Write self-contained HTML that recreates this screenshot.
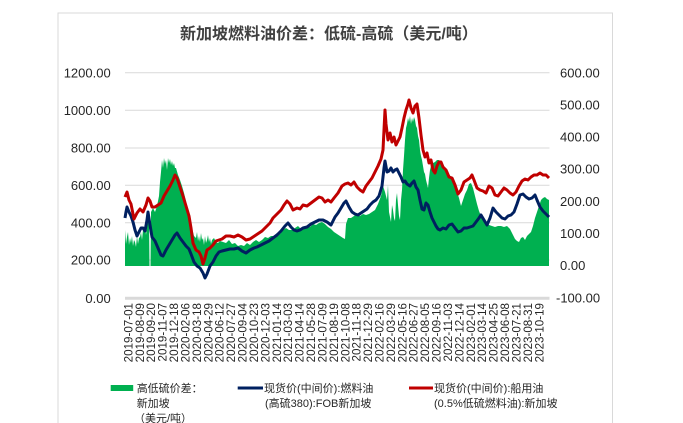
<!DOCTYPE html>
<html>
<head>
<meta charset="utf-8">
<style>
html,body{margin:0;padding:0;background:#fff;}
svg{display:block;}
text{font-family:"Liberation Sans","Noto Sans CJK SC",sans-serif;}
</style>
</head>
<body>
<svg width="683" height="423" viewBox="0 0 683 423" xmlns="http://www.w3.org/2000/svg">
<rect x="0" y="0" width="683" height="423" fill="#fff"/>
<rect x="58" y="13" width="554.5" height="420" fill="#fff" stroke="#d9d9d9" stroke-width="1"/>

<text x="180" y="39" font-size="16" font-weight="bold" fill="#404040">新加坡燃料油价差：低硫-高硫（美元/吨）</text>

<!-- gridlines -->
<g stroke="#d9d9d9" stroke-width="1">
<line x1="125" y1="72.7" x2="549.5" y2="72.7"/>
<line x1="125" y1="110.3" x2="549.5" y2="110.3"/>
<line x1="125" y1="148" x2="549.5" y2="148"/>
<line x1="125" y1="185.3" x2="549.5" y2="185.3"/>
<line x1="125" y1="222.7" x2="549.5" y2="222.7"/>
<line x1="125" y1="260" x2="549.5" y2="260"/>
</g>

<!-- left axis labels -->
<g font-size="13" fill="#262626" text-anchor="end">
<text x="110.7" y="77.3">1200.00</text>
<text x="110.7" y="114.9">1000.00</text>
<text x="110.7" y="152.6">800.00</text>
<text x="110.7" y="189.9">600.00</text>
<text x="110.7" y="227.3">400.00</text>
<text x="110.7" y="264.6">200.00</text>
<text x="110.7" y="302.9">0.00</text>
</g>
<!-- right axis labels -->
<g font-size="13" fill="#262626">
<text x="560" y="77.3">600.00</text>
<text x="560" y="109.4">500.00</text>
<text x="560" y="141.6">400.00</text>
<text x="560" y="173.7">300.00</text>
<text x="560" y="205.9">200.00</text>
<text x="560" y="238.0">100.00</text>
<text x="560" y="270.2">0.00</text>
<text x="556" y="302.3">-100.00</text>
</g>

<!-- green area -->
<polygon fill="#00b050" points="125,266 125,230 126,244 127,237 128,232 129,245 130,238 131,243 132,236 133,246 134,240 135,242 136,247 137,236 138,244 139,238 140,237 141,232 142,240 143,230 144,228 145,225 146,235 147,226 148,222 149,215 149.5,266 150.5,266 151,212 153,208 155,212 157,206 159,196 160,182 161,172 162,160 163,168 164,158 165,164 166,160 167,170 168,158 169,163 170,159 171,165 172,161 173,166 174,163 175,168 176,168 178,175 180,180 182,186 184,193 186,201 188,212 190,218 192,228 194,236 196,238 197,232 198,241 199,236 200,242 201,233 202,240 203,238 204,245 205,236 206,243 207,240 208,235 209,242 210,238 211,244 212,240 214,238 216,242 218,243 220,241 223,242 226,243 229,240 232,244 235,243 238,246 241,245 244,246 247,243 250,245 253,242 256,240 259,242 262,240 265,237 268,238 271,236 274,236 277,233 280,234 283,230 286,228 289,230 292,230 295,228 298,226 301,229 304,228 307,226 310,227 313,224 316,225 319,223 322,222 325,224 328,227 331,229 334,232 337,234 340,236 343,238 345,239 346,224 348,218 351,218 354,216 357,214 360,216 363,214 366,215 369,214 372,212 375,210 378,204 381,196 383,186 385,192 387,200 388,185 389,212 390,217 391,222 392,205 393,210 394,218 395,221 396,200 397,193 398,205 399,216 400,220 401,200 402,190 403,170 404,156 405,140 406,128 407,124 408,118 409,122 410,116 411,124 412,118 413,122 414,117 415,120 416,126 417,128 418,136 419,140 420,150 421,156 422,160 423,166 424,172 425,174 426,180 427,184 428,188 429,178 430,170 431,166 432,166 433,163 435,162 437,160 439,160 441,162 443,164 445,168 447,171 449,174 451,177 453,180 455,186 457,192 459,198 461,206 463,200 465,194 467,190 469,184 471,183 473,188 475,196 477,204 479,211 481,216 483,220 486,223 489,225 492,226 495,227 498,226 501,226 504,227 507,226 510,229 513,235 515,239 517,241 519,242 521,238 523,237 525,240 527,236 529,234 531,232 533,226 535,218 537,212 539,206 541,200 543,198 545,197 547,199 549,200 549,266"/>

<!-- x axis line -->
<line x1="125" y1="298.3" x2="549.5" y2="298.3" stroke="#d9d9d9" stroke-width="3"/>

<!-- blue line -->
<polyline fill="none" stroke="#002060" stroke-width="3" stroke-linejoin="round" points="125,218 126,212 127,207 129,212 131,216 133,222 135,230 137,236 139,232 141,228 143,228 145,231 147,220 148,212 150,225 152,237 155,241 158,248 161,255 163,256 166,250 169,245 172,240 175,235 177,233 180,238 183,242 186,246 189,249 191,254 194,262 197,266 200,268 203,273 205,278 207,274 210,266 213,262 216,256 219,252 222,251 226,250 230,249 234,249 238,248 242,251 246,253 250,250 254,248 257,247 261,245 265,243 269,241 273,238 277,235 281,231 285,226 288,223 291,227 294,230 297,231 300,230 303,228 307,227 311,224 315,222 319,220 323,220 327,222 331,225 335,217 338,213 341,208 344,203 346,201 349,207 352,212 355,214 358,215 361,213 364,211 367,209 370,205 373,202 376,200 379,196 382,186 384,168 385,161 387,172 389,171 391,168 393,172 395,170 397,169 399,173 401,177 403,182 405,181 407,184 410,186 412,183 414,181 416,187 418,190 420,200 422,209 424,210 426,203 428,205 430,212 432,218 434,222 436,226 438,229 440,230 443,228 446,229 449,225 452,224 455,228 458,232 461,231 464,228 467,228 470,227 473,226 476,222 479,218 481,215 484,220 487,225 490,218 493,208 496,212 499,215 502,218 505,219 508,216 511,215 514,212 517,204 520,195 523,194 526,197 529,199 532,198 535,195 537,200 540,207 543,211 546,214 549,217"/>

<!-- red line -->
<polyline fill="none" stroke="#c00000" stroke-width="3" stroke-linejoin="round" points="125,197 127,192 129,200 131,204 134,219 137,213 140,209 143,212 146,205 148,198 150,201 152,207 155,207 158,205 161,203 164,196 167,191 170,186 173,180 175,175 177,178 180,187 183,196 186,206 189,216 191,228 193,243 196,250 199,252 201,256 203,264 205,258 207,250 210,248 213,245 216,241 219,240 222,239 226,236 230,236 234,237 238,235 242,237 246,240 250,239 253,237 256,235 259,233 262,231 266,227 270,223 273,218 277,214 281,210 284,205 287,201 290,204 293,210 297,208 300,209 303,205 307,206 311,203 315,200 319,197 322,198 325,202 328,200 331,202 334,198 338,193 342,186 345,184 348,183 351,185 354,182 357,187 360,190 363,192 366,186 369,182 372,178 375,172 378,166 381,159 383,150 385,110 386,124 388,140 390,133 392,142 394,137 396,145 398,141 400,137 402,128 404,118 406,110 408,104 409,100 411,108 413,113 415,106 417,104 419,118 421,135 423,150 425,157 427,153 429,163 431,160 433,170 435,173 437,166 439,162 441,162 443,167 446,170 449,177 452,178 455,185 458,194 461,190 464,182 467,180 470,178 472,175 474,180 477,188 480,190 483,191 486,193 489,186 492,188 495,195 498,196 501,192 504,188 507,190 510,193 513,195 516,192 519,186 522,181 525,179 528,180 531,177 534,175 537,175 540,173 543,175 546,175 549,178"/>

<!-- x labels -->
<g font-size="11.6" fill="#262626" text-anchor="end">
<text transform="translate(128.3,303) rotate(-90)" dy="0.35em">2019-07-01</text>
<text transform="translate(139.7,303) rotate(-90)" dy="0.35em">2019-08-09</text>
<text transform="translate(151.1,303) rotate(-90)" dy="0.35em">2019-09-20</text>
<text transform="translate(162.5,303) rotate(-90)" dy="0.35em">2019-11-07</text>
<text transform="translate(174.0,303) rotate(-90)" dy="0.35em">2019-12-18</text>
<text transform="translate(185.4,303) rotate(-90)" dy="0.35em">2020-02-06</text>
<text transform="translate(196.8,303) rotate(-90)" dy="0.35em">2020-03-18</text>
<text transform="translate(208.2,303) rotate(-90)" dy="0.35em">2020-04-29</text>
<text transform="translate(219.6,303) rotate(-90)" dy="0.35em">2020-06-12</text>
<text transform="translate(231.0,303) rotate(-90)" dy="0.35em">2020-07-27</text>
<text transform="translate(242.4,303) rotate(-90)" dy="0.35em">2020-09-04</text>
<text transform="translate(253.9,303) rotate(-90)" dy="0.35em">2020-10-23</text>
<text transform="translate(265.3,303) rotate(-90)" dy="0.35em">2020-12-03</text>
<text transform="translate(276.7,303) rotate(-90)" dy="0.35em">2021-01-14</text>
<text transform="translate(288.1,303) rotate(-90)" dy="0.35em">2021-03-03</text>
<text transform="translate(299.5,303) rotate(-90)" dy="0.35em">2021-04-14</text>
<text transform="translate(310.9,303) rotate(-90)" dy="0.35em">2021-05-28</text>
<text transform="translate(322.3,303) rotate(-90)" dy="0.35em">2021-07-09</text>
<text transform="translate(333.8,303) rotate(-90)" dy="0.35em">2021-08-19</text>
<text transform="translate(345.2,303) rotate(-90)" dy="0.35em">2021-10-08</text>
<text transform="translate(356.6,303) rotate(-90)" dy="0.35em">2021-11-18</text>
<text transform="translate(368.0,303) rotate(-90)" dy="0.35em">2021-12-29</text>
<text transform="translate(379.4,303) rotate(-90)" dy="0.35em">2022-02-16</text>
<text transform="translate(390.8,303) rotate(-90)" dy="0.35em">2022-03-29</text>
<text transform="translate(402.2,303) rotate(-90)" dy="0.35em">2022-05-16</text>
<text transform="translate(413.6,303) rotate(-90)" dy="0.35em">2022-06-27</text>
<text transform="translate(425.1,303) rotate(-90)" dy="0.35em">2022-08-05</text>
<text transform="translate(436.5,303) rotate(-90)" dy="0.35em">2022-09-16</text>
<text transform="translate(447.9,303) rotate(-90)" dy="0.35em">2022-11-03</text>
<text transform="translate(459.3,303) rotate(-90)" dy="0.35em">2022-12-14</text>
<text transform="translate(470.7,303) rotate(-90)" dy="0.35em">2023-02-01</text>
<text transform="translate(482.1,303) rotate(-90)" dy="0.35em">2023-03-14</text>
<text transform="translate(493.5,303) rotate(-90)" dy="0.35em">2023-04-25</text>
<text transform="translate(505.0,303) rotate(-90)" dy="0.35em">2023-06-08</text>
<text transform="translate(516.4,303) rotate(-90)" dy="0.35em">2023-07-21</text>
<text transform="translate(527.8,303) rotate(-90)" dy="0.35em">2023-08-31</text>
<text transform="translate(539.2,303) rotate(-90)" dy="0.35em">2023-10-19</text>
</g>

<!-- legend -->
<rect x="110.7" y="385" width="22.5" height="6" fill="#00b050"/>
<line x1="237.7" y1="388" x2="263" y2="388" stroke="#002060" stroke-width="3"/>
<line x1="409" y1="388" x2="433" y2="388" stroke="#c00000" stroke-width="3"/>
<g font-size="11" fill="#262626">
<text x="136.7" y="392">高低硫价差：</text>
<text x="136.7" y="407">新加坡</text>
<text x="134" y="422">（美元/吨）</text>
<text x="264" y="392">现货价(中间价):燃料油</text>
<text x="265" y="407">(高硫380):FOB新加坡</text>
<text x="434" y="392">现货价(中间价):船用油</text>
<text x="434" y="407">(0.5%低硫燃料油):新加坡</text>
</g>
</svg>
</body>
</html>
